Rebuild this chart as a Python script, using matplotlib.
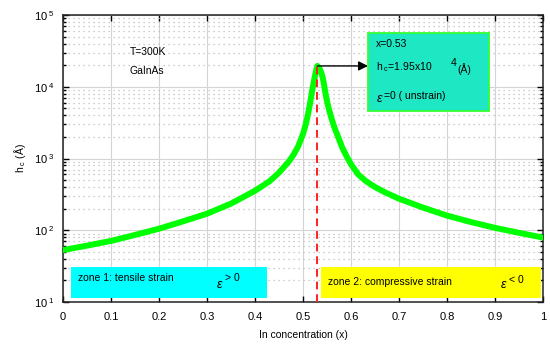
import math
import matplotlib
matplotlib.use("Agg")
import matplotlib.pyplot as plt
from matplotlib.ticker import LogLocator, FixedLocator, NullFormatter, FuncFormatter
from matplotlib.patches import Rectangle

plt.rcParams['font.family'] = ['Liberation Sans', 'DejaVu Sans']
plt.rcParams['mathtext.fontset'] = 'custom'
plt.rcParams['mathtext.rm'] = 'Liberation Sans'
plt.rcParams['mathtext.it'] = 'Liberation Sans:italic'

# data
x_conc = [0.00, 0.05, 0.10, 0.15, 0.20, 0.25, 0.30, 0.35, 0.40, 0.43, 0.45, 0.47,
          0.48, 0.49, 0.50, 0.505, 0.51, 0.515, 0.52, 0.524, 0.527, 0.530,
          0.534, 0.538, 0.541, 0.543, 0.547, 0.552, 0.558, 0.565, 0.575, 0.582,
          0.59, 0.60, 0.615, 0.63, 0.65, 0.67, 0.70, 0.75, 0.80, 0.85, 0.90, 0.95, 1.00]
hc = [53, 61, 71, 86, 105, 133, 170, 235, 355, 480, 635, 900,
      1120, 1480, 2190, 2880, 3980, 6030, 9550, 13200, 16600, 19500,
      18200, 15800, 13500, 11500, 7940, 5500, 3890, 2750, 1860, 1410,
      1100, 830, 600, 490, 400, 340, 275, 207, 160, 130, 108, 92, 79]

x_peak = 0.53
hc_peak = 1.95e4
x_ticks = [0, 0.1, 0.2, 0.3, 0.4, 0.5, 0.6, 0.7, 0.8, 0.9, 1]
x_tick_labels = ['0', '0.1', '0.2', '0.3', '0.4', '0.5', '0.6', '0.7', '0.8', '0.9', '1']
y_ticks = [1e1, 1e2, 1e3, 1e4, 1e5]

fig = plt.figure(figsize=(5.5, 3.46), dpi=100)
ax = fig.add_axes([63/550, 1-302/346, 480/550, 287/346])

ax.set_yscale('log')
ax.set_xlim(0, 1)
ax.set_ylim(1e1, 1e5)

ax.set_xticks(x_ticks)
ax.set_xticklabels(x_tick_labels)
ax.yaxis.set_major_locator(FixedLocator(y_ticks))
ax.yaxis.set_minor_locator(LogLocator(base=10, subs=range(2, 10)))
ax.yaxis.set_minor_formatter(NullFormatter())
ax.yaxis.set_major_formatter(FuncFormatter(lambda v, p: r'10$^{\ %d}$' % round(math.log10(v))))
ax.grid(True, which='major', color='#d4d4d4', linewidth=0.8, linestyle='-')
ax.grid(True, which='minor', axis='y', color='#bdbdbd', linewidth=0.9, linestyle=(0, (1, 3)))
ax.set_axisbelow(True)

ax.tick_params(which='both', direction='in', top=True, right=True, labelsize=8, colors='black')
ax.tick_params(which='major', length=4, width=1)
ax.tick_params(which='minor', length=2.5, width=1)
ax.tick_params(axis='x', pad=7)
ax.tick_params(axis='y', pad=6)
for s in ax.spines.values():
    s.set_linewidth(1.1)
    s.set_color('#222222')


def px(xp, yp):
    return ((xp - 63) / 480, 10 ** (1 + (301 - yp) / 71.5))


def rect_px(x0, y0, x1, y1, **kw):
    (ax0, ay1) = px(x0, y1)
    (ax1, ay0) = px(x1, y0)
    return Rectangle((ax0, ay1), ax1 - ax0, ay0 - ay1, **kw)


# zone boxes
ax.add_patch(rect_px(71, 266, 267, 297, facecolor='#00ffff', edgecolor='none', zorder=2))
ax.add_patch(rect_px(321, 266, 541, 297, facecolor='#ffff00', edgecolor='none', zorder=2))

# curve
ax.plot(x_conc, hc, color='#00ff00', linewidth=4.3, zorder=4,
        solid_capstyle='round', solid_joinstyle='round')
ax.plot([x_peak, x_peak], [1e1, hc_peak], color='#ff2020', linestyle=(0, (4, 2.5)),
        linewidth=1.4, zorder=5)

# annotation arrow and box
ax.annotate('', xy=(px(368, 65)[0], hc_peak), xytext=(x_peak, hc_peak),
            arrowprops=dict(arrowstyle='-|>', color='black', lw=1.0,
                            mutation_scale=14, shrinkA=0, shrinkB=0), zorder=6)
ax.add_patch(rect_px(368, 33, 489, 111, facecolor='#1ee8c4', edgecolor='#33ff33',
                     linewidth=1.3, zorder=6))

fs = 7.5
ax.text(*px(376, 44), 'x=0.53', fontsize=fs, va='center', zorder=7)
ax.text(*px(376, 67), r'h$_{\ \mathregular{c}}$=1.95x10', fontsize=fs, va='center', zorder=7)
ax.text(*px(451, 63), '4', fontsize=fs, va='center', zorder=7)
ax.text(*px(457, 69), '(Å)', fontsize=fs, va='center', zorder=7)
ax.text(*px(376, 98), r'$\epsilon$', fontsize=9, va='center', zorder=7, family='DejaVu Sans')
ax.text(*px(384, 96), '=0 ( unstrain)', fontsize=fs, va='center', zorder=7)

ax.text(*px(130, 52), 'T=300K', fontsize=fs, va='center', zorder=7)
ax.text(*px(130, 71), 'GaInAs', fontsize=fs, va='center', zorder=7)

ax.text(*px(78, 277), 'zone 1: tensile strain', fontsize=fs, va='center', zorder=7)
ax.text(*px(216, 284), r'$\epsilon$', fontsize=9, va='center', zorder=7, family='DejaVu Sans')
ax.text(*px(225, 277), '> 0', fontsize=fs, va='center', zorder=7)
ax.text(*px(328, 281), 'zone 2: compressive strain', fontsize=fs, va='center', zorder=7)
ax.text(*px(500, 284), r'$\epsilon$', fontsize=9, va='center', zorder=7, family='DejaVu Sans')
ax.text(*px(509, 279), '< 0', fontsize=fs, va='center', zorder=7)

ax.set_xlabel('In concentration (x)', fontsize=7.5, labelpad=6)
ax.set_ylabel(r'h$_{\ \mathregular{c}}$ (Å)', fontsize=7.5, labelpad=4)

fig.savefig('out.png', dpi=100)
